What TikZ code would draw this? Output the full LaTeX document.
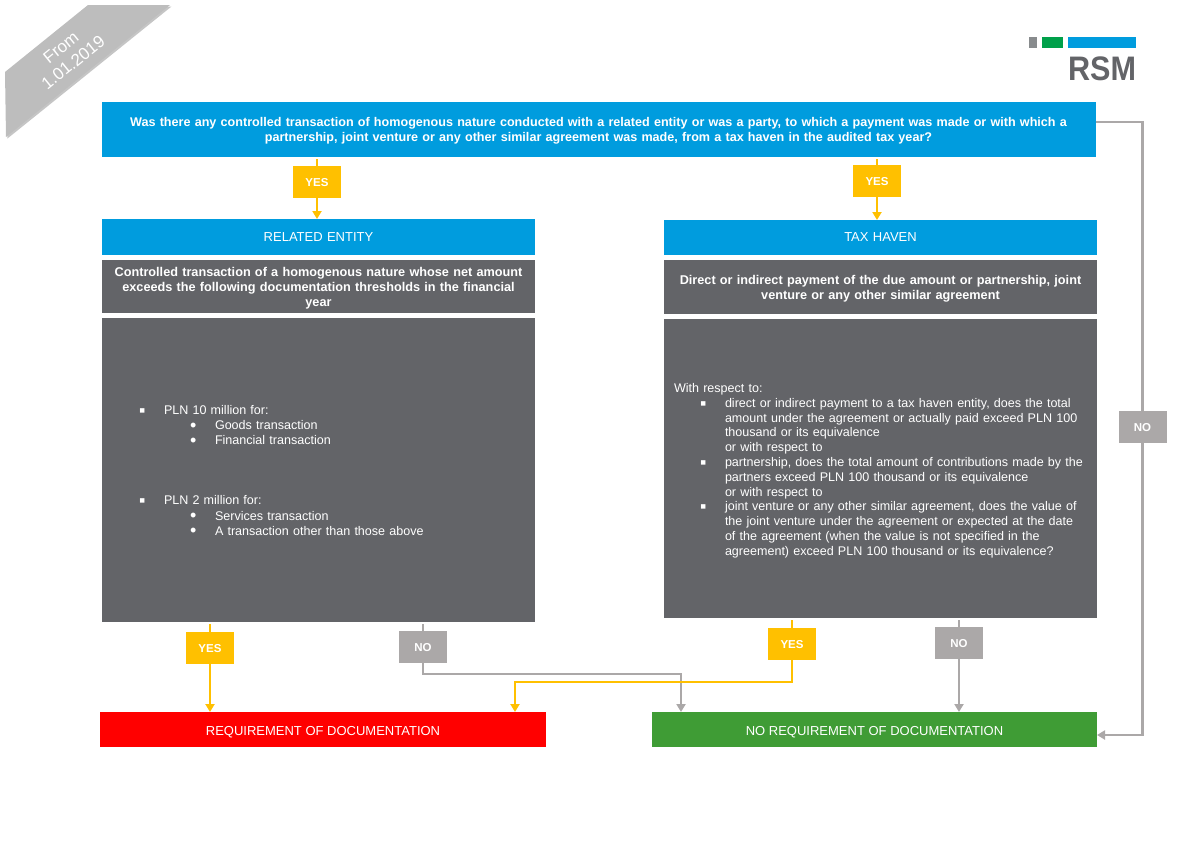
\documentclass[tikz,border=0pt]{standalone}
\usepackage{fontspec}
\setmainfont{Liberation Sans}
\usetikzlibrary{arrows.meta,positioning,shadows}
\definecolor{rsmblue}{HTML}{009CDE}
\definecolor{rsmdark}{HTML}{636468}
\definecolor{rsmyellow}{HTML}{FFC000}
\definecolor{rsmgrey}{HTML}{ABA8A8}
\definecolor{rsmgreen}{HTML}{3F9C35}
\definecolor{rsmred}{HTML}{FF0000}
\definecolor{rsmlogo}{HTML}{888B8D}
\definecolor{rsmlogogreen}{HTML}{00A04A}
\definecolor{cornergrey}{HTML}{BDBDBD}
\newcommand{\listline}[3]{\par\leftskip=#1pt\relax\hspace*{-#2pt}\makebox[#2pt][l]{\raisebox{-1.7pt}{\fontsize{18}{15}\selectfont #3}}\ignorespaces}
\tikzset{
  box/.style={align=center, text=white, outer sep=0pt, inner xsep=10pt, inner ysep=0pt},
  question/.style={box, fill=rsmblue, text width=974pt, minimum height=55pt, font=\fontsize{12.6}{15}\selectfont\bfseries, execute at begin node={\rule{0pt}{12pt}}},
  topic/.style={box, fill=rsmblue, text width=413pt, minimum height=36pt, font=\fontsize{13}{15}\selectfont},
  subject/.style={box, fill=rsmdark, text width=413pt, font=\fontsize{12.7}{15}\selectfont\bfseries, execute at begin node={\rule{0pt}{13pt}}},
  detail/.style={box, fill=rsmdark, align=left, text width=413pt, font=\fontsize{12.55}{14.8}\selectfont},
  tag/.style={box, inner xsep=0pt, minimum width=48pt, minimum height=32pt, text height=9.5pt, text depth=0pt, font=\fontsize{11.5}{13}\selectfont\bfseries},
  yestag/.style={tag, fill=rsmyellow},
  notag/.style={tag, fill=rsmgrey},
  outcome/.style={box, minimum height=35pt, text height=12pt, text depth=0pt, font=\fontsize{13}{15}\selectfont},
  logopart/.style={outer sep=0pt, inner sep=0pt, minimum height=10.5pt},
  yesline/.style={rsmyellow, line width=2.4pt},
  noline/.style={rsmgrey, line width=2.4pt},
  yesarrow/.style={yesline, -{Triangle[width=9pt,length=8pt]}},
  noarrow/.style={noline, -{Triangle[width=9pt,length=8pt]}},
}
\begin{document}
\begin{tikzpicture}[x=1pt,y=-1pt]
  \useasboundingbox (0,0) rectangle (1200,849);
  \fill[cornergrey, drop shadow={shadow xshift=1.5pt, shadow yshift=-1.5pt, fill=black!45}] (88,5) -- (170,5) -- (6,137) -- (5,72) -- cycle;
  \node[text=white, align=center, rotate=39, font=\fontsize{17}{19.5}\selectfont] (since) at (67,55) {From\\1.01.2019};

  \node[logopart, fill=rsmlogo, minimum width=8pt] (logogrey) at (1033,42.25) {};
  \node[logopart, fill=rsmlogogreen, minimum width=21pt, right=5pt of logogrey] (logogreen) {};
  \node[logopart, fill=rsmblue, minimum width=68pt, right=5pt of logogreen] (logoblue) {};
  \node[text=rsmdark, inner sep=0pt, xscale=.9, font=\fontsize{34}{34}\selectfont\bfseries, below=9.5pt of logoblue] (logotext) {RSM};

  \node[question] (transaction) at (598.5,129.5) {Was there any controlled transaction of homogenous nature conducted with a related entity or was a party, to which a payment was made or with which a\\partnership, joint venture or any other similar agreement was made, from a tax haven in the audited tax year?};

  \node[yestag] (yesrelated) at (317,182) {YES};
  \node[topic, below=21pt of yesrelated, xshift=1.5pt] (related) {RELATED ENTITY};
  \node[subject, minimum height=53pt, below=5pt of related] (relatedsubject) {Controlled transaction of a homogenous nature whose net amount\\exceeds the following documentation thresholds in the financial\\year};
  \node[detail, minimum height=304pt, below=5pt of relatedsubject, font=\fontsize{12.55}{15.1}\selectfont] (relateddetail) {%
    \listline{52}{25}{▪}PLN 10 million for:
    \listline{103}{25}{•}Goods transaction
    \listline{103}{25}{•}Financial transaction
    \par\leftskip=0pt\strut\par\strut\par\strut
    \listline{52}{25}{▪}PLN 2 million for:
    \listline{103}{25}{•}Services transaction
    \listline{103}{25}{•}A transaction other than those above\par\vspace*{4pt}};
  \node[yestag, below=10pt of relateddetail, xshift=-108.5pt] (yesrequired) {YES};
  \node[notag, below=9pt of relateddetail, xshift=104.5pt] (nodirect) {NO};
  \node[outcome, fill=rsmred, minimum width=446pt, below=48pt of yesrequired, xshift=113pt] (required) {REQUIREMENT OF DOCUMENTATION};

  \node[yestag] (yeshaven) at (877,181) {YES};
  \node[topic, minimum height=35pt, below=23pt of yeshaven, xshift=3.5pt] (haven) {TAX HAVEN};
  \node[subject, minimum height=54pt, below=5pt of haven] (havensubject) {Direct or indirect payment of the due amount or partnership, joint\\venture or any other similar agreement};
  \node[detail, minimum height=299pt, below=5pt of havensubject] (havendetail) {%
    \rule{0pt}{13.5pt}With respect to:
    \listline{51}{25}{▪}direct or indirect payment to a tax haven entity, does the total\newline amount under the agreement or actually paid exceed PLN 100\newline thousand or its equivalence\newline or with respect to
    \listline{51}{25}{▪}partnership, does the total amount of contributions made by the\newline partners exceed PLN 100 thousand or its equivalence\newline or with respect to
    \listline{51}{25}{▪}joint venture or any other similar agreement, does the value of\newline the joint venture under the agreement or expected at the date\newline of the agreement (when the value is not specified in the\newline agreement) exceed PLN 100 thousand or its equivalence?\par};
  \node[yestag, below=10pt of havendetail, xshift=-88.5pt] (yesdirect) {YES};
  \node[notag, below=9pt of havendetail, xshift=78.5pt] (nohaven) {NO};
  \node[outcome, fill=rsmgreen, minimum width=445pt, below=52pt of yesdirect, xshift=82.5pt] (notrequired) {NO REQUIREMENT OF DOCUMENTATION};
  \node[notag, right=21.5pt of havendetail, yshift=41.5pt] (noquestion) {NO};

  \coordinate (yesjoin) at (515,682);
  \coordinate (nojoin) at (681,674);

  \draw[yesline, shorten <=2pt] (transaction.south -| yesrelated) -- (yesrelated);
  \draw[yesarrow] (yesrelated) -- (related.north -| yesrelated);
  \draw[yesline, shorten <=2pt] (transaction.south -| yeshaven) -- (yeshaven);
  \draw[yesarrow] (yeshaven) -- (haven.north -| yeshaven);
  \draw[yesline, shorten <=2pt] (relateddetail.south -| yesrequired) -- (yesrequired);
  \draw[yesarrow] (yesrequired) -- (required.north -| yesrequired);
  \draw[noline, shorten <=2pt] (relateddetail.south -| nodirect) -- (nodirect);
  \draw[noarrow] (nodirect.south) |- (nojoin) -- (nojoin |- notrequired.north);
  \draw[yesline, shorten <=2pt] (havendetail.south -| yesdirect) -- (yesdirect);
  \draw[yesarrow] (yesdirect.south) |- (yesjoin) -- (yesjoin |- required.north);
  \draw[noline, shorten <=2pt] (havendetail.south -| nohaven) -- (nohaven);
  \draw[noarrow] (nohaven) -- (notrequired.north -| nohaven);
  \draw[noline] ([yshift=7.5pt]transaction.east) -| (noquestion);
  \draw[noarrow] (noquestion.south) |- ([yshift=-5.5pt]notrequired.east);
\end{tikzpicture}
\end{document}
